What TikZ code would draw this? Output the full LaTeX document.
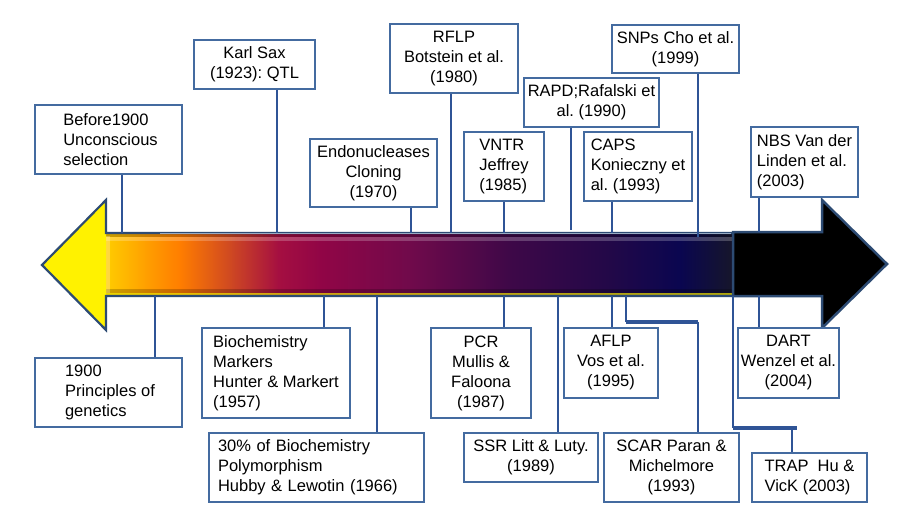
\documentclass[tikz,border=0pt]{standalone}
\usepackage{fontspec}
\setmainfont{Liberation Sans}
\frenchspacing
\definecolor{boxc}{RGB}{68,107,160}
\definecolor{connc}{RGB}{47,84,150}
\definecolor{arrc}{RGB}{45,75,115}
\definecolor{edgec}{RGB}{150,170,195}
\definecolor{g0}{RGB}{255,204,0}
\definecolor{g1}{RGB}{255,160,0}
\definecolor{g2}{RGB}{255,125,0}
\definecolor{g3}{RGB}{205,70,35}
\definecolor{g4}{RGB}{165,15,65}
\definecolor{g5}{RGB}{145,5,70}
\definecolor{g6}{RGB}{112,10,75}
\definecolor{g7}{RGB}{62,8,72}
\definecolor{g8}{RGB}{34,8,72}
\definecolor{g9}{RGB}{10,6,80}
\definecolor{g10}{RGB}{22,22,42}
\begin{document}
\begin{tikzpicture}[x=1pt,y=-1pt,
  box/.style={draw=boxc, line width=1.3pt, fill=white, inner sep=1pt,
    font=\fontsize{16.5}{20}\selectfont},
  conn/.style={draw=connc, line width=1.2pt},
  thickconn/.style={draw=connc, line width=4.5pt},
]
\useasboundingbox (0,0) rectangle (909,512);
\fill[white] (0,0) rectangle (909,512);

% ---- arrow body gradient ----
\foreach \xa/\xb/\ca/\cb in {106/145/g0/g1,145/180/g1/g2,180/232/g2/g3,232/278/g3/g4,
  278/320/g4/g5,320/410/g5/g6,410/510/g6/g7,510/610/g7/g8,610/680/g8/g9,680/733/g9/g10}
  \shade[left color=\ca, right color=\cb] (\xa,233) rectangle (\xb+0.6,296);
\fill[black, opacity=0.22] (106,233) rectangle (733,236.5);
\fill[white, opacity=0.22] (106,236.5) rectangle (733,241);
\fill[black, opacity=0.2] (106,288.5) rectangle (733,293);
\fill[yellow!75!olive, opacity=0.75] (106,293) rectangle (733,295.5);
\fill[white, opacity=0.25] (106,236) rectangle (110,293);

% ---- yellow head ----
\fill[yellow] (106,233) -- (106,200) -- (42,265) -- (106,330) -- (106,296) -- cycle;
\draw[arrc, line width=2.2pt, line join=miter] (733,233) -- (106,233) -- (106,200) -- (42,265)
  -- (106,330) -- (106,296) -- (733,296);
\draw[edgec, line width=1pt] (160,233.3) -- (731,233.3);

% ---- black head ----
\draw[arrc, fill=black, line width=2.5pt, line join=miter] (733,232) -- (822,232) -- (822,200)
  -- (887,264) -- (822,328) -- (822,296) -- (733,296) -- cycle;

% ---- boxes ----
\node[box, align=left, minimum width=147pt, minimum height=69pt] (bA) at (108.5,139.5)
  {\hspace*{4pt}Before1900\\\hspace*{4pt}Unconscious\\\hspace*{4pt}selection};
\node[box, align=center, minimum width=121pt, minimum height=49pt] (bSax) at (254.5,64.5)
  {Karl Sax\\(1923): QTL};
\node[box, align=center, minimum width=127pt, minimum height=68pt] (bEndo) at (373.5,173)
  {Endonucleases\\Cloning\\(1970)};
\node[box, align=center, minimum width=128pt, minimum height=69pt] (bRflp) at (454,58.5)
  {RFLP\\Botstein et al.\\(1980)};
\node[box, align=left, minimum width=80pt, minimum height=69pt] (bVntr) at (504,166.5)
  {VNTR\\Jeffrey\\(1985)};
\node[box, align=center, minimum width=135pt, minimum height=49pt] (bRapd) at (591.5,102.5)
  {RAPD;Rafalski et\\al. (1990)};
\node[box, align=left, minimum width=108pt, minimum height=69pt] (bCaps) at (638,166.5)
  {CAPS\\Konieczny et\\al. (1993)};
\node[box, align=center, minimum width=127pt, minimum height=48pt] (bSnp) at (675.5,49)
  {SNPs Cho et al.\\(1999)};
\node[box, align=left, minimum width=107pt, minimum height=70pt] (bNbs) at (804.5,162)
  {NBS Van der\\Linden et al.\\(2003)};
\node[box, align=left, minimum width=147pt, minimum height=69pt] (b1900) at (108.5,392.5)
  {\hspace*{3pt}1900\\\hspace*{3pt}Principles of\\\hspace*{3pt}genetics};
\node[box, align=left, minimum width=148pt, minimum height=90pt] (bBio) at (276,373)
  {Biochemistry\\Markers\\Hunter \& Markert\\(1957)};
\node[box, align=left, inner xsep=9pt, text width=197pt, minimum height=69pt] (b30) at (316.5,467.5)
  {30\% of Biochemistry\\Polymorphism\\Hubby \& Lewotin (1966)};
\node[box, align=center, minimum width=100pt, minimum height=90pt] (bPcr) at (481,373)
  {PCR\\Mullis \&\\Faloona\\(1987)};
\node[box, align=center, minimum width=134pt, minimum height=49pt] (bSsr) at (531,457.5)
  {SSR Litt \& Luty.\\(1989)};
\node[box, align=center, minimum width=94pt, minimum height=70pt] (bAflp) at (611,363)
  {AFLP\\Vos et al.\\(1995)};
\node[box, align=center, minimum width=135pt, minimum height=69pt] (bScar) at (671.5,467.5)
  {SCAR Paran \&\\Michelmore\\(1993)};
\node[box, align=center, minimum width=101pt, minimum height=70pt] (bDart) at (788.5,363)
  {DART\\Wenzel et al.\\(2004)};
\node[box, align=left, minimum width=115pt, minimum height=49pt] (bTrap) at (809.5,477.5)
  {TRAP\ \ Hu \&\\VicK (2003)};

% ---- connectors above ----
\coordinate (tA) at (122,233);
\coordinate (tSax) at (277,233);
\coordinate (tEndo) at (411,233);
\coordinate (tRflp) at (451,233);
\coordinate (tVntr) at (504,233);
\coordinate (tRapd) at (571,230);
\coordinate (tCaps) at (612,233);
\coordinate (tSnp) at (698,237);
\coordinate (tNbs) at (759,232);
\foreach \b/\t in {bA/tA,bSax/tSax,bEndo/tEndo,bRflp/tRflp,bVntr/tVntr,bRapd/tRapd,bCaps/tCaps,bSnp/tSnp,bNbs/tNbs}
  \draw[conn] (\t |- \b.south) -- (\t);

% ---- connectors below ----
\coordinate (u1900) at (155,296);
\coordinate (uBio) at (324,296);
\coordinate (u30) at (377,296);
\coordinate (uPcr) at (504,296);
\coordinate (uSsr) at (558,296);
\coordinate (uAflp) at (612,296);
\coordinate (uDart) at (759,296);
\foreach \b/\t in {b1900/u1900,bBio/uBio,b30/u30,bPcr/uPcr,bSsr/uSsr,bAflp/uAflp,bDart/uDart}
  \draw[conn] (\t) -- (\t |- \b.north);

% SCAR elbow
\coordinate (sc1) at (626,296);
\coordinate (sc2) at (626,322);
\coordinate (sc3) at (698,322);
\draw[conn] (sc1) -- (sc2);
\draw[thickconn] (sc2) -- (sc3);
\draw[conn] (sc3) -- (sc3 |- bScar.north);

% TRAP elbow
\coordinate (tr1) at (733,296);
\coordinate (tr2) at (733,428);
\coordinate (tr3) at (797,428);
\coordinate (tr4) at (792,428);
\draw[conn] (tr1) -- (tr2);
\draw[thickconn] (tr2) -- (tr3);
\draw[conn] (tr4) -- (tr4 |- bTrap.north);
\end{tikzpicture}
\end{document}
